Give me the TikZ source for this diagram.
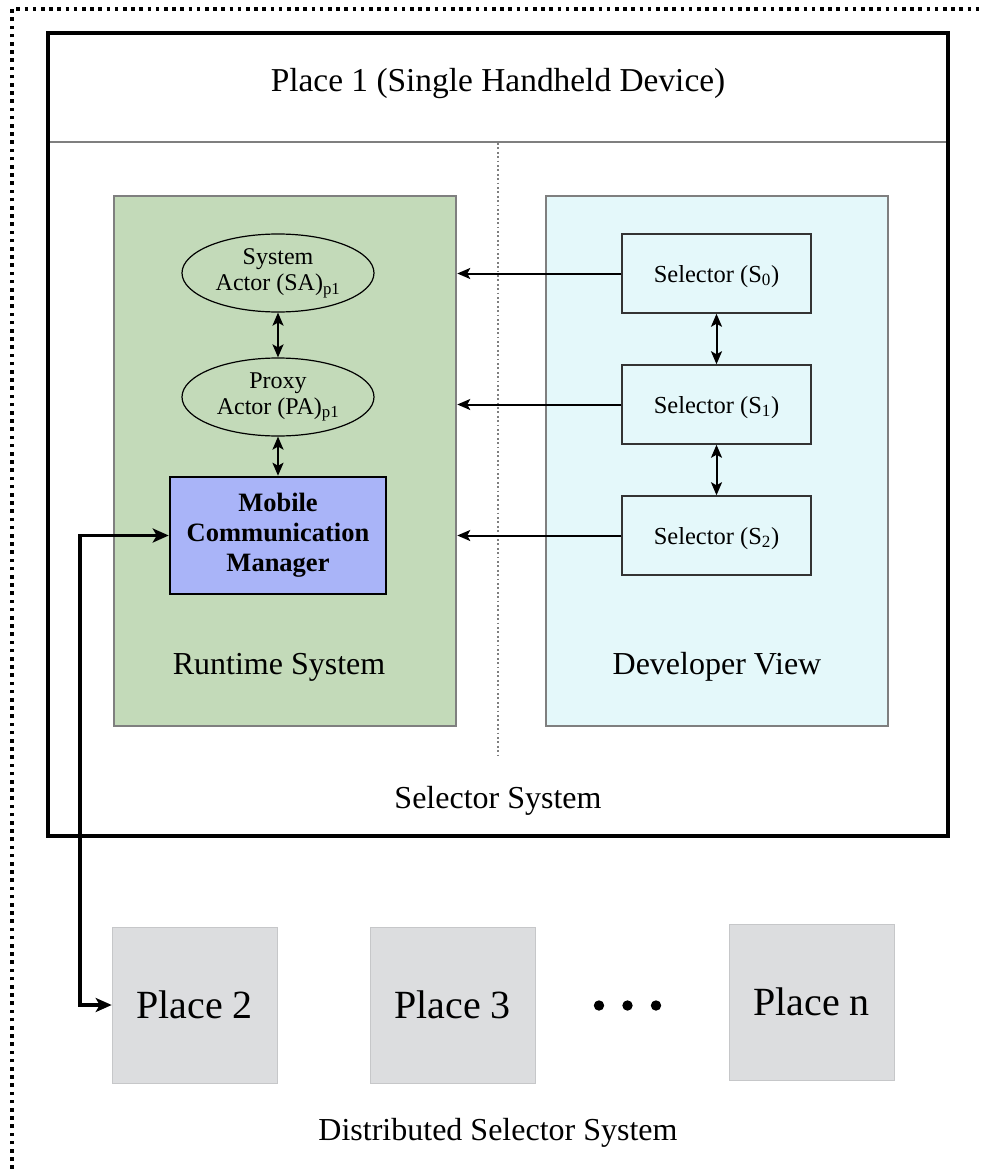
\documentclass[tikz,border=0pt]{standalone}
\usepackage{fontspec}
\setmainfont{Liberation Serif}
\usetikzlibrary{arrows.meta,shapes.geometric}

\definecolor{rtgreen}{HTML}{C3DAB9}
\definecolor{devcyan}{HTML}{E4F8FA}
\definecolor{mcmblue}{HTML}{A9B4F8}
\definecolor{placegray}{HTML}{DCDDDF}
\definecolor{framegray}{HTML}{7F7F7F}

\tikzset{
  big/.style={font=\fontsize{32}{38}\selectfont},
  panel/.style={draw=framegray, line width=2.5pt, minimum width=342pt, minimum height=530pt, inner sep=0pt},
  actor/.style={ellipse, draw=black, line width=1.2pt, minimum width=192pt, minimum height=78pt,
    inner sep=0pt, align=center, font=\fontsize{24}{26}\selectfont},
  selbox/.style={draw=black!80, line width=1.5pt, fill=devcyan, minimum width=189pt, minimum height=79pt,
    inner sep=0pt, text depth=0pt, font=\fontsize{24.5}{28}\selectfont},
  place/.style={fill=placegray, draw=placegray!90!black, line width=0.6pt, minimum width=165pt,
    minimum height=156pt, inner sep=0pt, font=\fontsize{40}{46}\selectfont},
  link/.style={line width=2pt, -{Stealth[length=13pt,width=11pt,inset=3pt]}},
  twoway/.style={line width=2pt, {Stealth[length=13pt,width=11pt,inset=3pt]}-{Stealth[length=13pt,width=11pt,inset=3pt]}},
  heavy/.style={line width=3.5pt, {Stealth[length=16pt,width=14pt,inset=4pt]}-{Stealth[length=16pt,width=14pt,inset=4pt]}},
}

\begin{document}
\begin{tikzpicture}[x=1pt, y=-1pt]
\useasboundingbox (0,0) rectangle (981,1169);

% dotted outer frame (left and top edges)
\draw[line width=3.6pt, dash pattern=on 3.6pt off 4.6pt] (12,1169) -- (12,9) -- (981,9);

% single handheld device
\node[draw=black, line width=4pt, minimum width=900pt, minimum height=803pt, inner sep=0pt] (dev) at (498,434.5) {};
\node[font=\fontsize{33.4}{40}\selectfont] (title) at (498,84) {Place 1 (Single Handheld Device)};
\draw[framegray, line width=1.5pt] (50,142) -- (946,142);
\draw[framegray, line width=1.8pt, dash pattern=on 1.8pt off 2.6pt] (498,143) -- (498,758);

% runtime system and developer view panels
\node[panel, fill=rtgreen] (rt) at (285,461) {};
\node[panel, fill=devcyan] (dv) at (717,461) {};
\node[big] (rtlabel) at (279,667) {Runtime System};
\node[big] (dvlabel) at (717,667) {Developer View};
\node[big] (sslabel) at (498,801) {Selector System};

% actors and communication manager
\node[actor] (sa) at (278,273) {System\\Actor (SA)\textsubscript{p1}};
\node[actor] (pa) at (278,397) {Proxy\\Actor (PA)\textsubscript{p1}};
\node[draw=black, line width=2.5pt, fill=mcmblue, minimum width=216pt, minimum height=117pt, inner sep=0pt,
  align=center, font=\fontsize{26.5}{30}\selectfont\bfseries] (mcm) at (278,535.5)
  {Mobile\\Communication\\Manager};

% selectors
\node[selbox] (s0) at (716.5,273.5) {Selector (S\textsubscript{0})};
\node[selbox] (s1) at (716.5,404.5) {Selector (S\textsubscript{1})};
\node[selbox] (s2) at (716.5,535.5) {Selector (S\textsubscript{2})};

% connectors inside the device
\draw[twoway] (sa) -- (pa);
\draw[twoway] (pa) -- (mcm);
\draw[twoway] (s0) -- (s1);
\draw[twoway] (s1) -- (s2);
\draw[link] (s0.west) -- (rt.east |- s0.west);
\draw[link] (s1.west) -- (rt.east |- s1.west);
\draw[link] (s2.west) -- (rt.east |- s2.west);

% distributed places
\node[place] (p2) at (194.5,1005) {Place 2};
\node[place] (p3) at (452.5,1005) {Place 3};
\node[place] (pn) at (811.5,1002) {Place n};
\fill (599,1005.5) circle (5.2pt) (627.5,1005.5) circle (5.2pt) (656,1005.5) circle (5.2pt);
\node[big] (dist) at (498,1133) {Distributed Selector System};

% link between the communication manager and the other places
\coordinate (turn) at (80,535.5);
\draw[heavy] (mcm.west) -- (turn) |- (p2.west);
\end{tikzpicture}
\end{document}
